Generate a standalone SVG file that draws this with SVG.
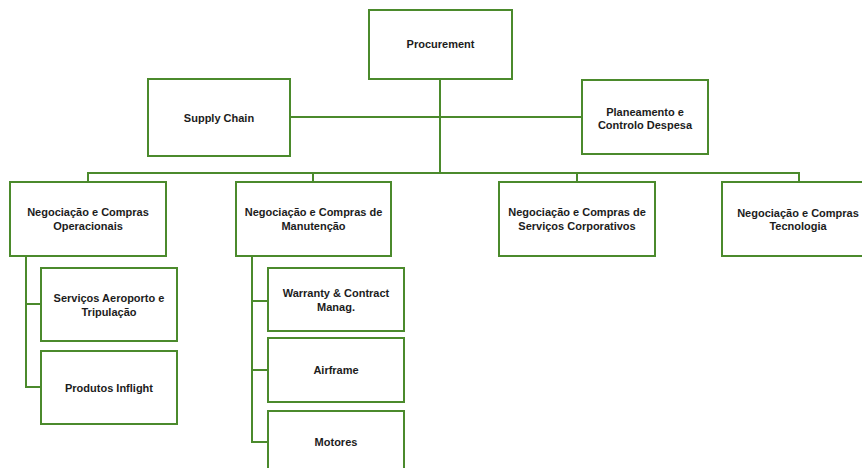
<svg xmlns="http://www.w3.org/2000/svg" width="862" height="468" viewBox="0 0 862 468">
<style>
.box{fill:#ffffff;stroke:#4b8a2c;stroke-width:2}
.ln{fill:none;stroke:#4b8a2c;stroke-width:2}
text{font-family:"Liberation Sans",Arial,sans-serif;font-weight:bold;font-size:11px;fill:#1c1c1c;text-anchor:middle}
</style>
<rect width="862" height="468" fill="#ffffff"/>
<g id="connectors">
<path class="ln" d="M440,79 V173"/>
<path class="ln" d="M290,117 H582"/>
<path class="ln" d="M88,181 V173 H799 V182"/>
<path class="ln" d="M313,173 V182"/>
<path class="ln" d="M577,173 V182"/>
<path class="ln" d="M26,256 V387 H41"/>
<path class="ln" d="M26,304 H41"/>
<path class="ln" d="M252,256 V442 H268"/>
<path class="ln" d="M252,301 H268"/>
<path class="ln" d="M252,370 H268"/>
</g>
<g id="procurement"><rect class="box" x="369" y="10" width="143" height="69"/><text x="440.5" y="48">Procurement</text></g>
<g id="supply-chain"><rect class="box" x="148" y="79" width="142" height="77"/><text x="219" y="122">Supply Chain</text></g>
<g id="planeamento"><rect class="box" x="582" y="80" width="126" height="74"/><text x="645" y="115.5">Planeamento e</text><text x="645" y="128.5">Controlo Despesa</text></g>
<g id="operacionais"><rect class="box" x="10" y="182" width="156" height="74"/><text x="88" y="216">Negociação e Compras</text><text x="88" y="230">Operacionais</text></g>
<g id="manutencao"><rect class="box" x="236" y="182" width="155" height="74"/><text x="313.5" y="216">Negociação e Compras de</text><text x="313.5" y="230">Manutenção</text></g>
<g id="corporativos"><rect class="box" x="499" y="182" width="156" height="74"/><text x="577" y="216">Negociação e Compras de</text><text x="577" y="230">Serviços Corporativos</text></g>
<g id="tecnologia"><rect class="box" x="722" y="182" width="156" height="74"/><text x="798" y="216.5">Negociação e Compras</text><text x="798" y="230">Tecnologia</text></g>
<g id="servicos-aeroporto"><rect class="box" x="41" y="268" width="136" height="73"/><text x="109" y="302">Serviços Aeroporto e</text><text x="109" y="316">Tripulação</text></g>
<g id="produtos-inflight"><rect class="box" x="41" y="351" width="136" height="73"/><text x="109" y="392">Produtos Inflight</text></g>
<g id="warranty"><rect class="box" x="268" y="268" width="136" height="63"/><text x="336" y="297">Warranty &amp; Contract</text><text x="336" y="311">Manag.</text></g>
<g id="airframe"><rect class="box" x="268" y="338" width="136" height="64"/><text x="336" y="374">Airframe</text></g>
<g id="motores"><rect class="box" x="268" y="411" width="136" height="70"/><text x="336" y="446">Motores</text></g>
</svg>
